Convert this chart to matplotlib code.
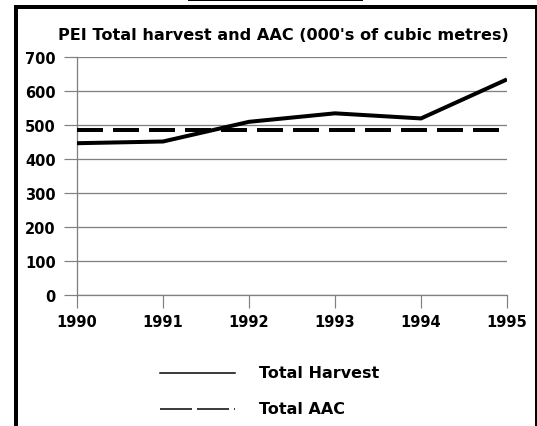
import matplotlib
matplotlib.use("Agg")
import matplotlib.pyplot as plt
from matplotlib.lines import Line2D

years = [1990, 1991, 1992, 1993, 1994, 1995]
total_harvest = [447, 452, 510, 535, 520, 635]
total_aac = [487, 487, 487, 487, 487, 487]
y_ticks = [0, 100, 200, 300, 400, 500, 600, 700]
title = "PEI Total harvest and AAC (000's of cubic metres)"
legend_labels = ["Total Harvest", "Total AAC"]

plt.rcParams['font.family'] = ['DejaVu Sans']
plt.rcParams['lines.scale_dashes'] = False

W, H = 537, 427
DPI = 100
fig = plt.figure(figsize=(W / DPI, H / DPI), dpi=DPI)
px = 72.0 / DPI  # points per pixel

ax = fig.add_axes([77 / W, 1 - 296 / H, (507 - 77) / W, (296 - 58.3) / H])
grid_c = '#808080'

ax.plot(years, total_harvest, color='black', lw=4 * px, solid_joinstyle='miter',
        solid_capstyle='butt', zorder=3)
ax.plot(years, total_aac, color='black', lw=4 * px,
        linestyle=(0, (26 * px, 10 * px)), dash_capstyle='butt', zorder=3)

ax.set_xlim(years[0], years[-1])
ax.set_ylim(y_ticks[0], y_ticks[-1])
ax.set_xticks(years)
ax.set_yticks(y_ticks)
ax.set_xticklabels([str(y) for y in years], fontsize=10.5, fontweight='bold')
ax.set_yticklabels([str(v) for v in y_ticks], fontsize=10.5, fontweight='bold')
ax.tick_params(axis='y', length=13 * px, width=1.2 * px, color=grid_c, pad=6)
ax.tick_params(axis='x', length=13 * px, width=1.2 * px, color=grid_c, pad=4)
ax.yaxis.grid(True, color=grid_c, lw=1.3 * px)
ax.xaxis.grid(False)
ax.set_axisbelow(True)
for s in ['top', 'right']:
    ax.spines[s].set_visible(False)
for s in ['left', 'bottom']:
    ax.spines[s].set_color(grid_c)
    ax.spines[s].set_linewidth(1.3 * px)

fig.text(283 / W, 1 - 36 / H, title, ha='center', va='center',
         fontsize=11.6, fontweight='bold')

# legend (drawn manually)
fig.add_artist(Line2D([160 / W, 235 / W], [1 - 373.5 / H, 1 - 373.5 / H],
                      transform=fig.transFigure, color='black', lw=1.5 * px))
fig.add_artist(Line2D([160 / W, 235 / W], [1 - 409.5 / H, 1 - 409.5 / H],
                      transform=fig.transFigure, color='black', lw=1.5 * px,
                      linestyle=(0, (32 * px, 5 * px)), dash_capstyle='butt'))
fig.text(258.6 / W, 1 - 373.5 / H, legend_labels[0], ha='left', va='center',
         fontsize=11.5, fontweight='bold')
fig.text(258.6 / W, 1 - 409.5 / H, legend_labels[1], ha='left', va='center',
         fontsize=11.5, fontweight='bold')

# frame lines
fig.add_artist(Line2D([15.7 / W, 15.7 / W], [0, 1 - 6 / H], transform=fig.transFigure,
                      color='black', lw=4 * px, solid_capstyle='butt'))
fig.add_artist(Line2D([13.7 / W, 1], [1 - 8 / H, 1 - 8 / H], transform=fig.transFigure,
                      color='black', lw=4 * px, solid_capstyle='butt'))
fig.add_artist(Line2D([536 / W, 536 / W], [0, 1 - 6 / H], transform=fig.transFigure,
                      color='black', lw=2 * px, solid_capstyle='butt'))
fig.add_artist(Line2D([188 / W, 363 / W], [1 - 0.8 / H, 1 - 0.8 / H], transform=fig.transFigure,
                      color='black', lw=2 * px, solid_capstyle='butt'))

fig.savefig('out.png', dpi=DPI)
